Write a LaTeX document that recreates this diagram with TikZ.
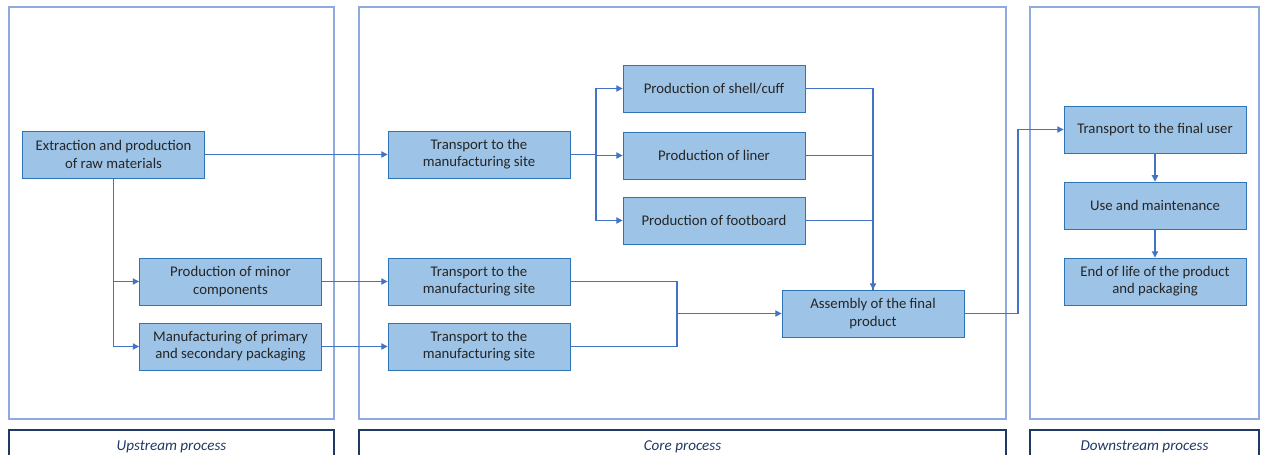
\documentclass[tikz,border=0pt]{standalone}
\usepackage{fontspec}
\setmainfont{Carlito}
\usetikzlibrary{arrows.meta}
\definecolor{panelline}{HTML}{8FAADC}
\definecolor{navy}{HTML}{1F3864}
\definecolor{boxfill}{HTML}{9DC3E6}
\definecolor{boxline}{HTML}{2E75B6}
\definecolor{flow}{HTML}{4472C4}
\definecolor{txt}{HTML}{262626}

\begin{document}
\begin{tikzpicture}[
    x=0.02cm, y=-0.02cm,
    >={Triangle[length=3.6pt,width=3.6pt]},
    step box/.style = {
      draw = boxline,
      fill = boxfill,
      text = txt,
      align = center,
      inner sep = 0pt,
      minimum width = 3.64cm,
      minimum height = 0.94cm,
      line width = 0.5pt
    },
    panel/.style = {draw = panelline, line width = 0.6pt},
    tag/.style = {text = navy, font = \itshape\fontsize{8.6}{10}\selectfont},
    flowline/.style = {draw = flow, line width = 0.6pt},
    font=\fontsize{8.4}{9.8}\selectfont
  ]
  \useasboundingbox (0,0) rectangle (1263,454);
  % panels
  \draw[panel] (9,7) rectangle (334,419);
  \draw[panel] (359,7) rectangle (1006,419);
  \draw[panel] (1030,7) rectangle (1259,419);
  \draw[navy, line width=0.6pt] (9,460) -- (9,430) -- (334,430) -- (334,460);
  \draw[navy, line width=0.6pt] (359,460) -- (359,430) -- (1006,430) -- (1006,460);
  \draw[navy, line width=0.6pt] (1030,460) -- (1030,430) -- (1259,430) -- (1259,460);
  \node[tag] (up)   at (171.5,446.5) {Upstream process};
  \node[tag] (core) at (682.5,446.5) {Core process};
  \node[tag] (down) at (1144.5,446.5) {Downstream process};

  % upstream
  \node[step box] (raw)   at (113.5,154.5) {Extraction and production\\of raw materials};
  \node[step box] (minor) at (230.5,281.5) {Production of minor\\components};
  \node[step box] (pack)  at (230.5,346.5) {Manufacturing of primary\\and secondary packaging};

  % core
  \node[step box] (trmain)  at (479,154.5) {Transport to the\\manufacturing site};
  \node[step box] (trminor) at (479,281.5) {Transport to the\\manufacturing site};
  \node[step box] (trpack)  at (479,346.5) {Transport to the\\manufacturing site};
  \node[step box] (shell)   at (714,88.5)  {Production of shell/cuff};
  \node[step box] (liner)   at (714,155.5) {Production of liner};
  \node[step box] (foot)    at (714,220.5) {Production of footboard};
  \node[step box] (asm)     at (873,313.5) {Assembly of the final\\product};

  % downstream
  \node[step box] (deliver) at (1155,129.5) {Transport to the final user};
  \node[step box] (use)     at (1155,205.5) {Use and maintenance};
  \node[step box] (eol)     at (1155,281.5) {End of life of the product\\and packaging};

  \coordinate (split) at (596,155.5);
  \coordinate (merge) at (677,313.5);
  \coordinate (turn)  at (1018,313.5);

  \draw[flowline, ->] (raw.east) -- (raw.east -| trmain.west);
  \draw[flowline, ->] (raw.south) |- (minor.west);
  \draw[flowline, ->] (raw.south) |- (pack.west);
  \draw[flowline, ->] (minor.east) -- (minor.east -| trminor.west);
  \draw[flowline, ->] (pack.east) -- (trpack.west);

  \draw[flowline]     (trmain.east) -- (trmain.east -| split) -- (split);
  \draw[flowline, ->] (split) |- (shell.west);
  \draw[flowline, ->] (split) -- (liner.west);
  \draw[flowline, ->] (split) |- (foot.west);

  \draw[flowline]     (shell.east) -| (asm.north);
  \draw[flowline]     (liner.east) -| (asm.north);
  \draw[flowline, ->] (foot.east) -| (asm.north);

  \draw[flowline]     (trminor.east) -| (merge);
  \draw[flowline]     (trpack.east) -| (merge);
  \draw[flowline, ->] (merge) -- (asm.west);

  \draw[flowline, ->] (asm.east) -- (turn) |- (deliver.west);
  \draw[flowline, ->] (deliver) -- (use);
  \draw[flowline, ->] (use) -- (eol);
\end{tikzpicture}
\end{document}
